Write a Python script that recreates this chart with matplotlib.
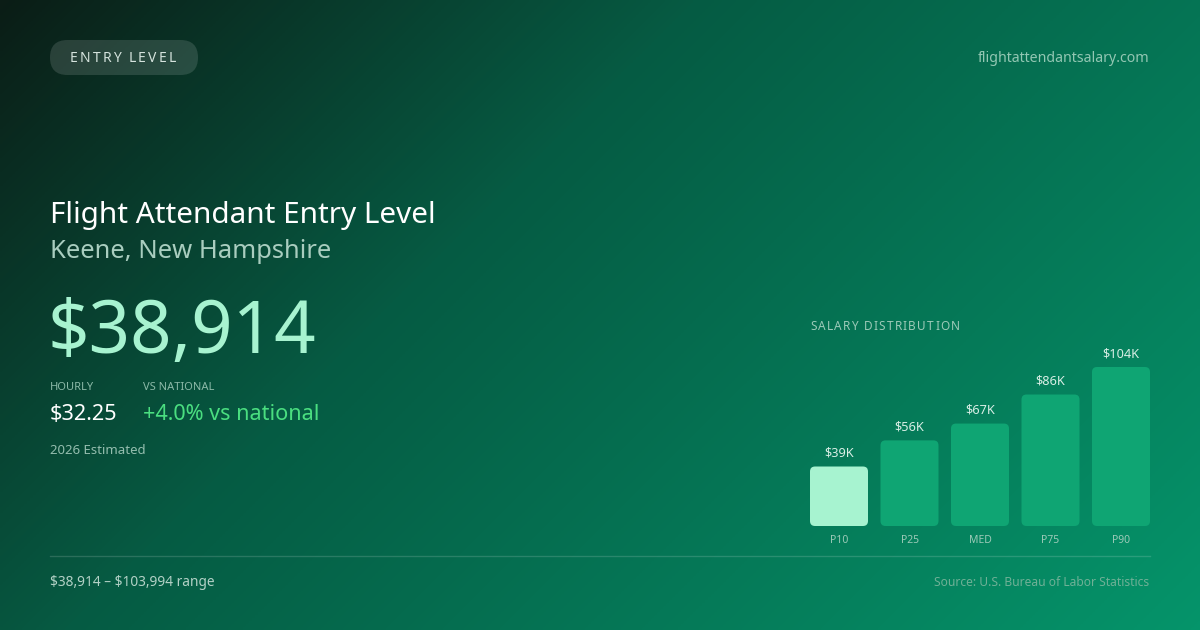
import numpy as np
import matplotlib
matplotlib.use("Agg")
import matplotlib.pyplot as plt
from matplotlib.colors import LinearSegmentedColormap
from matplotlib.patches import FancyBboxPatch

plt.rcParams['font.family'] = ['Noto Sans', 'DejaVu Sans']

# Data
percentiles = ["P10", "P25", "MED", "P75", "P90"]
salaries_k = [38.914, 56, 67, 86, 103.994]
bar_labels = ["$39K", "$56K", "$67K", "$86K", "$104K"]

title = "Flight Attendant Entry Level"
location = "Keene, New Hampshire"
annual = "$38,914"
hourly = "$32.25"
vs_national = "+4.0% vs national"
range_text = "\\$38,914 \u2013 \\$103,994 range"

W, H = 1200, 630
fig = plt.figure(figsize=(12, 6.3), dpi=100)

# Background gradient (diagonal)
bg = fig.add_axes([0, 0, 1, 1])
bg.set_xlim(0, W)
bg.set_ylim(H, 0)
bg.axis("off")
xx, yy = np.meshgrid(np.linspace(0, W, 400), np.linspace(0, H, 210))
t = (xx + yy) / (W + H)
cmap = LinearSegmentedColormap.from_list(
    "bg", [(0, "#0b1d16"), (0.38, "#065b43"), (1, "#05946a")])
bg.imshow(t, cmap=cmap, extent=[0, W, H, 0], aspect="auto", zorder=0)


def spaced_text(ax, x, y, s, spacing, **kw):
    r = fig.canvas.get_renderer()
    cx = x
    for ch in s:
        if ch == " ":
            cx += kw.get("fontsize", 10) * 0.35 * 100 / 72
            continue
        t = ax.text(cx, y, ch, ha="left", va="center", **kw)
        bb = t.get_window_extent(renderer=r)
        cx += bb.width + spacing


# Pill badge
pill = FancyBboxPatch((50, 40), 148, 35, boxstyle="round,pad=0,rounding_size=17.5",
                      facecolor="white", alpha=0.13, edgecolor="none", zorder=2)
bg.add_patch(pill)
spaced_text(bg, 70, 58, "ENTRY LEVEL", 2.2, fontsize=10, color="#d5e3dd", zorder=3)

bg.text(1149, 58, "flightattendantsalary.com", ha="right", va="center",
        fontsize=10.2, color="#93c7b3")

bg.text(50, 215, title, ha="left", va="center", fontsize=21.4, color="white")
bg.text(50, 252, location, ha="left", va="center", fontsize=18.4, color="#a9cdbf")
bg.text(48, 334, annual, ha="left", va="center", fontsize=52.3, color="#a7f3d0",
        fontweight="light")

bg.text(50, 388, "HOURLY", ha="left", va="center", fontsize=8, color="#8cb9a8")
bg.text(143, 388, "VS NATIONAL", ha="left", va="center", fontsize=8, color="#8cb9a8")
bg.text(50, 414, hourly, ha="left", va="center", fontsize=15.6, color="white")
bg.text(143, 414, vs_national, ha="left", va="center", fontsize=15.6, color="#4ade80")
bg.text(50, 450, "2026 Estimated", ha="left", va="center", fontsize=9.5, color="#94bdae")

bg.plot([50, 1150], [556, 556], color="white", alpha=0.15, lw=1)
bg.text(50, 582, range_text, ha="left", va="center", fontsize=9.9, color="#b3d1c6")
bg.text(1149, 582, "Source: U.S. Bureau of Labor Statistics", ha="right", va="center",
        fontsize=8.7, color="#6fb096")

spaced_text(bg, 810, 326, "SALARY DISTRIBUTION", 1.3, fontsize=8.5, color="#9ccab8")

# Bar chart
ax = fig.add_axes([810 / W, (H - 526) / H, 340 / W, 159 / H])
ax.patch.set_alpha(0)
x = np.arange(len(salaries_k))
spacing_px = 70.5
half = 340 / spacing_px / 2
ax.set_xlim(2 - half, 2 + half)
ax.set_ylim(0, max(salaries_k))
bar_w = 58 / spacing_px
bars = ax.bar(x, salaries_k, width=bar_w)
aspect = (max(salaries_k) / 159) / (1 / spacing_px)
colors = ["#a7f3d0"] + ["#0fa573"] * 4
for rect, c in zip(bars, colors):
    rect.set_visible(False)
    fb = FancyBboxPatch((rect.get_x(), rect.get_y()), rect.get_width(), rect.get_height(),
                        boxstyle="round,pad=0,rounding_size=%f" % (5 / spacing_px),
                        mutation_aspect=aspect, facecolor=c, edgecolor="none")
    ax.add_patch(fb)
for xi, v, lab in zip(x, salaries_k, bar_labels):
    ax.annotate(lab, (xi, v), xytext=(0, 5), textcoords="offset points",
                ha="center", va="bottom", fontsize=9.2, color="#d8eee5", annotation_clip=False)
ax.set_xticks(x)
ax.set_xticklabels(percentiles, fontsize=7.5, color="#9ccab8")
ax.tick_params(axis="x", length=0, pad=6.5)
ax.set_yticks([])
for s in ax.spines.values():
    s.set_visible(False)

fig.savefig("out.png", dpi=100)
